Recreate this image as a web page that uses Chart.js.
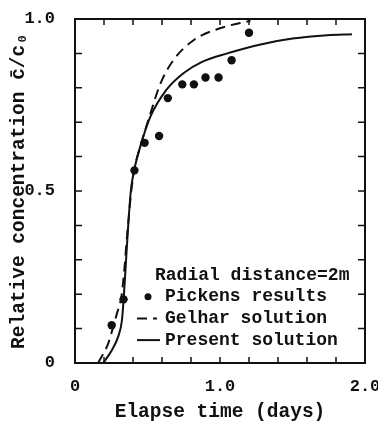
<!DOCTYPE html>
<html>
<head>
<meta charset="utf-8">
<script src="https://cdn.jsdelivr.net/npm/chart.js@4/dist/chart.umd.min.js"></script>
<style>
html, body { margin: 0; padding: 0; background: #fff; }
</style>
</head>
<body>
<canvas id="concChart" width="378" height="427"></canvas>
<script>
// Pickens field data (dots)
var pickensTime = [0.253, 0.335, 0.41, 0.48, 0.58, 0.64, 0.74, 0.82, 0.90, 0.99, 1.08, 1.20];
var pickensConc = [0.11, 0.185, 0.56, 0.64, 0.66, 0.77, 0.81, 0.81, 0.83, 0.83, 0.88, 0.96];

// Gelhar solution (dashed)
var gelharTime = [0.16, 0.23, 0.26, 0.29, 0.32, 0.34, 0.355, 0.37, 0.388, 0.41, 0.45, 0.52, 0.59, 0.68, 0.82, 1.00, 1.21];
var gelharConc = [0.0, 0.058, 0.10, 0.145, 0.193, 0.27, 0.35, 0.42, 0.50, 0.564, 0.629, 0.725, 0.813, 0.881, 0.939, 0.973, 0.995];

// Present solution (solid)
var presentTime = [0.195, 0.255, 0.297, 0.324, 0.336, 0.348, 0.365, 0.385, 0.41, 0.45, 0.52, 0.63, 0.75, 0.88, 1.05, 1.28, 1.50, 1.74, 1.91];
var presentConc = [0.0, 0.038, 0.076, 0.125, 0.19, 0.27, 0.387, 0.5, 0.564, 0.629, 0.716, 0.794, 0.843, 0.876, 0.90, 0.926, 0.943, 0.953, 0.956];

var xTickMarks = [0.2, 0.4, 0.6, 0.8, 1.0, 1.2, 1.4, 1.6, 1.8];
var yTickMarks = [0.1, 0.2, 0.3, 0.4, 0.5, 0.6, 0.7, 0.8, 0.9];
var legendTitle = 'Radial distance=2m';

function pts(xs, ys) {
    return xs.map(function(x, i) { return {x: x, y: ys[i]}; });
}

Chart.defaults.font.family = "'Liberation Mono', 'DejaVu Sans Mono', monospace";
Chart.defaults.color = '#111';

// box frame with inward ticks on all four sides
const frameTicks = {
    id: 'frameTicks',
    afterDraw(chart) {
        const ctx = chart.ctx, a = chart.chartArea;
        const xs = chart.scales.x, ys = chart.scales.y;
        ctx.save();
        ctx.strokeStyle = '#111';
        ctx.lineWidth = 2;
        ctx.strokeRect(a.left, a.top, a.right - a.left, a.bottom - a.top);
        ctx.lineWidth = 1.5;
        ctx.beginPath();
        xTickMarks.forEach(function(v) {
            const px = xs.getPixelForValue(v);
            ctx.moveTo(px, a.bottom); ctx.lineTo(px, a.bottom - 6);
            ctx.moveTo(px, a.top); ctx.lineTo(px, a.top + 6);
        });
        yTickMarks.forEach(function(v) {
            const py = ys.getPixelForValue(v);
            ctx.moveTo(a.left, py); ctx.lineTo(a.left + 7, py);
            ctx.moveTo(a.right, py); ctx.lineTo(a.right - 7, py);
        });
        ctx.stroke();
        ctx.restore();
    }
};

// legend written inside the plot, lower right
const noteLegend = {
    id: 'noteLegend',
    afterDatasetsDraw(chart) {
        const ctx = chart.ctx, a = chart.chartArea;
        const x0 = a.right - 210, y0 = a.bottom - 88, row = 21.7;
        ctx.save();
        ctx.font = 'bold 18px "Liberation Mono"';
        ctx.fillStyle = '#111';
        ctx.strokeStyle = '#111';
        ctx.textBaseline = 'middle';
        ctx.fillText(legendTitle, x0, y0);
        chart.data.datasets.forEach(function(ds, i) {
            const y = y0 + row * (i + 1);
            if (ds.showLine === false) {
                ctx.beginPath();
                ctx.arc(x0 - 7, y, 3.5, 0, 2 * Math.PI);
                ctx.fill();
            } else {
                ctx.lineWidth = ds.borderWidth;
                ctx.setLineDash(ds.borderDash || []);
                ctx.beginPath();
                ctx.moveTo(x0 - 18, y);
                ctx.lineTo(x0 + (ds.borderDash ? 2 : 5), y);
                ctx.stroke();
                ctx.setLineDash([]);
            }
            ctx.fillText(ds.label, x0 + 10, y);
        });
        ctx.restore();
    }
};

function near(v, t) { return Math.abs(v - t) < 1e-6; }

const concChart = new Chart(document.getElementById('concChart'), {
    type: 'scatter',
    data: {
        datasets: [{
            label: 'Pickens results',
            data: pts(pickensTime, pickensConc),
            showLine: false,
            pointRadius: 4.2,
            pointBackgroundColor: '#111',
            pointBorderWidth: 0
        }, {
            label: 'Gelhar solution',
            data: pts(gelharTime, gelharConc),
            showLine: true,
            borderColor: '#111',
            borderWidth: 2,
            borderDash: [10, 6],
            pointRadius: 0,
            cubicInterpolationMode: 'monotone'
        }, {
            label: 'Present solution',
            data: pts(presentTime, presentConc),
            showLine: true,
            borderColor: '#111',
            borderWidth: 2,
            pointRadius: 0,
            cubicInterpolationMode: 'monotone'
        }]
    },
    options: {
        responsive: false,
        animation: false,
        layout: { padding: { top: 19, right: 13, left: 0, bottom: 0 } },
        plugins: { legend: { display: false }, tooltip: { enabled: false } },
        scales: {
            x: {
                type: 'linear', min: 0, max: 2,
                grid: { display: false },
                border: { display: false },
                ticks: {
                    stepSize: 0.2, maxRotation: 0, autoSkip: false, padding: 6,
                    font: { size: 17, weight: 'bold' },
                    callback: function(v) { return near(v, 0) ? '0' : near(v, 1) ? '1.0' : near(v, 2) ? '2.0' : ''; }
                },
                title: { display: true, text: 'Elapse time (days)', font: { size: 19.5, weight: 'bold' }, padding: { top: 0, bottom: 3 } },
                afterFit: function(s) { s.height = 64; s.paddingLeft = 0; s.paddingRight = 0; }
            },
            y: {
                type: 'linear', min: 0, max: 1,
                grid: { display: false },
                border: { display: false },
                ticks: {
                    stepSize: 0.1, autoSkip: false, padding: 12,
                    font: { size: 17, weight: 'bold' },
                    callback: function(v) { return near(v, 0) ? '0' : near(v, 0.5) ? '0.5' : near(v, 1) ? '1.0' : ''; }
                },
                title: { display: true, text: 'Relative concentration c\u0304/c\u2080', font: { size: 19.5, weight: 'bold' }, padding: { top: 7, bottom: 0 } },
                afterFit: function(s) { s.width = 75; s.paddingTop = 0; s.paddingBottom = 0; }
            }
        }
    },
    plugins: [frameTicks, noteLegend]
});
</script>
</body>
</html>
